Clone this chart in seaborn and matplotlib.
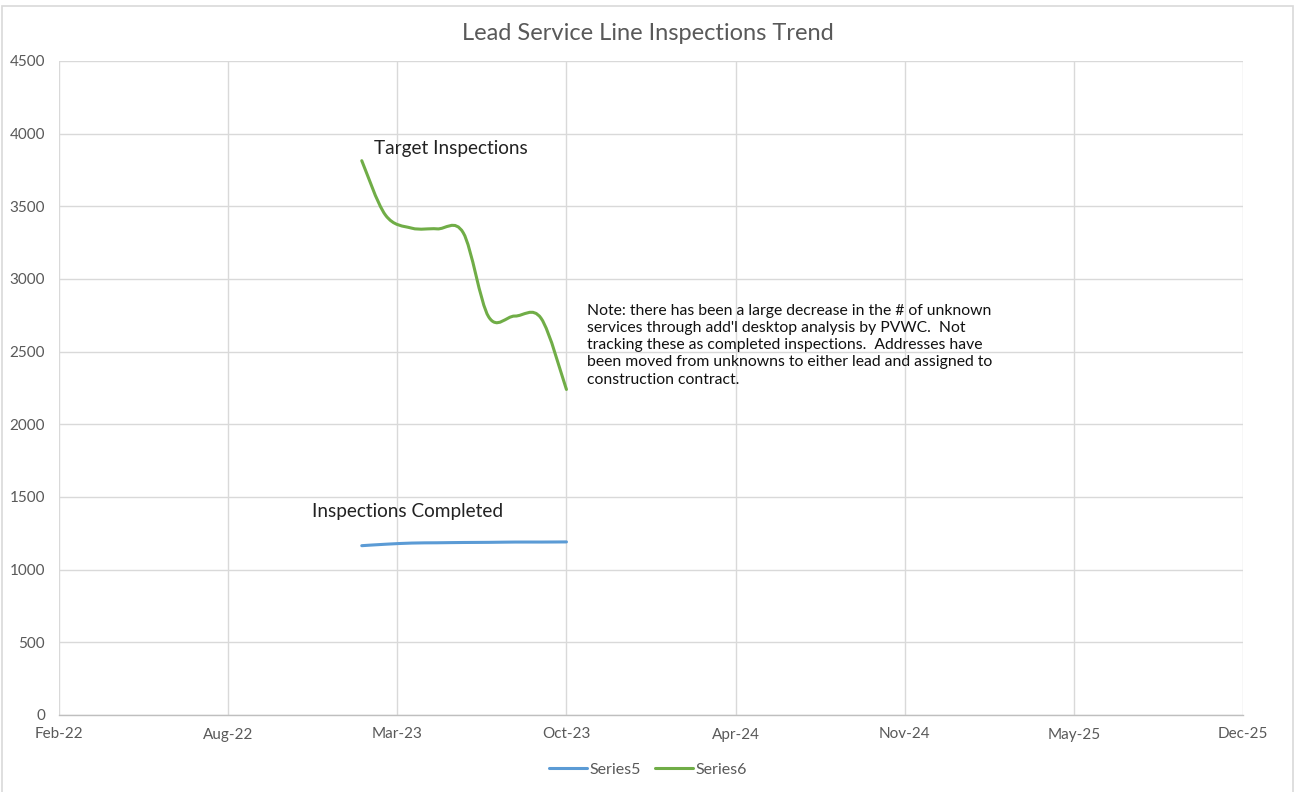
import numpy as np
import pandas as pd
import matplotlib
matplotlib.use("Agg")
import matplotlib.pyplot as plt
import matplotlib.dates as mdates
from matplotlib.path import Path
from matplotlib.patches import PathPatch, Rectangle
from matplotlib.lines import Line2D
import seaborn as sns

# ---- data ----
months = ["2023-02-01", "2023-03-01", "2023-04-01", "2023-05-01", "2023-06-01",
          "2023-07-01", "2023-08-01", "2023-09-01", "2023-10-01"]
series5 = [1165, 1175, 1183, 1185, 1187, 1188, 1190, 1190, 1191]   # Inspections Completed
series6 = [3814, 3440, 3350, 3345, 3318, 2740, 2745, 2730, 2240]   # Target Inspections
series_names = ["Series5", "Series6"]
series_colors = ["#5B9BD5", "#70AD47"]
x_min, x_max, x_step = "2022-02-08", "2025-12-09", 200
y_ticks = [0, 500, 1000, 1500, 2000, 2500, 3000, 3500, 4000, 4500]
title = "Lead Service Line Inspections Trend"
label_target = "Target Inspections"
label_completed = "Inspections Completed"
note = ("Note: there has been a large decrease in the # of unknown\n"
        "services through add'l desktop analysis by PVWC.  Not\n"
        "tracking these as completed inspections.  Addresses have\n"
        "been moved from unknowns to either lead and assigned to\n"
        "construction contract.")

sns.set_theme(style="whitegrid")
plt.rcParams['font.family'] = ['Lato', 'DejaVu Sans']

fig = plt.figure(figsize=(12.96, 7.92), dpi=100)
ax = fig.add_axes([59/1296, 1 - 715/792, (1243 - 59)/1296, (715 - 61)/792])
ax.set_facecolor("white")

xd = mdates.date2num(pd.to_datetime(months))


def smooth_path(x, y):
    """Excel-style smoothed line as cubic Bezier through the data points."""
    pts = np.column_stack([x, y]).astype(float)
    n = len(pts)
    verts = [pts[0]]
    codes = [Path.MOVETO]
    for i in range(n - 1):
        p0 = pts[max(i - 1, 0)]
        p1 = pts[i]
        p2 = pts[i + 1]
        p3 = pts[min(i + 2, n - 1)]
        c1 = p1 + (p2 - p0) / 6.0
        c2 = p2 - (p3 - p1) / 6.0
        verts += [c1, c2, p2]
        codes += [Path.CURVE4] * 3
    return Path(verts, codes)


df = pd.DataFrame({"date": list(xd) * 2,
                   "value": series5 + series6,
                   "series": [series_names[0]] * len(xd) + [series_names[1]] * len(xd)})
for name, color in zip(series_names, series_colors):
    sub = df[df["series"] == name]
    patch = PathPatch(smooth_path(sub["date"].values, sub["value"].values),
                      facecolor="none", edgecolor=color, lw=2.2,
                      capstyle="round", joinstyle="round", zorder=3)
    ax.add_patch(patch)

xmin = mdates.date2num(pd.Timestamp(x_min))
xmax = mdates.date2num(pd.Timestamp(x_max))
ax.set_xlim(xmin, xmax)
ax.set_ylim(0, 4500)
ax.set_xticks(np.arange(xmin, xmax + 1, x_step))
ax.xaxis.set_major_formatter(mdates.DateFormatter("%b-%y"))
ax.set_yticks(y_ticks)

ax.grid(True, color="#d9d9d9", lw=1.0)
ax.set_axisbelow(True)
for s in ["top", "right", "left"]:
    ax.spines[s].set_visible(False)
ax.spines["bottom"].set_visible(True)
ax.spines["bottom"].set_color("#bfbfbf")
ax.spines["bottom"].set_linewidth(1.0)
ax.tick_params(axis="both", length=0, labelsize=11, colors="#595959")
ax.tick_params(axis="x", pad=9)
ax.tick_params(axis="y", pad=10)
ax.set_xlabel("")
ax.set_ylabel("")

fig.text(648/1296, 1 - 33/792, title, ha="center", va="center",
         fontsize=17, color="#595959")

ax.text(mdates.date2num(pd.Timestamp("2023-02-16")), 3900, label_target,
        fontsize=13.7, color="#222222", va="center", ha="left")
ax.text(mdates.date2num(pd.Timestamp("2022-12-04")), 1400, label_completed,
        fontsize=13.7, color="#222222", va="center", ha="left")
ax.text(mdates.date2num(pd.Timestamp("2023-10-25")), 2545, note,
        fontsize=11.3, color="#111111", va="center", ha="left", linespacing=1.3)

handles = [Line2D([0], [0], color=c, lw=2.2) for c in series_colors]
leg = fig.legend(handles, series_names, loc="center", bbox_to_anchor=(648/1296, 1 - 770/792),
                 ncol=2, frameon=False, fontsize=11.5, handlelength=2.4,
                 columnspacing=0.9, handletextpad=0.15)
for t in leg.get_texts():
    t.set_color("#595959")

fig.patches.append(Rectangle((1.5/1296, -0.02), (1293 - 1.5)/1296, 1.02 - 6/792,
                             transform=fig.transFigure,
                             fill=False, edgecolor="#d9d9d9", lw=1.2))

fig.savefig("out.png", dpi=100, facecolor="white")
